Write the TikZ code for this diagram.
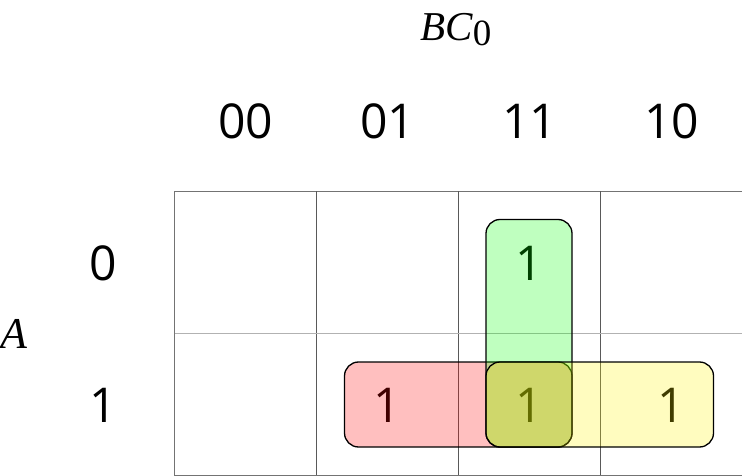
\documentclass[tikz,border=0pt]{standalone}
\usepackage{fontspec}
\setmainfont{Liberation Serif}
\newfontfamily\digitfont{Open Sans}
\begin{document}
\begin{tikzpicture}[x=1pt,y=-1pt,
  dig/.style={font=\digitfont\fontsize{48}{48}\selectfont, inner sep=0pt},
  grp/.style={draw=black, line width=1.3pt, rounded corners=14pt, fill opacity=0.25},
  gridline/.style={draw=black!55, line width=1pt}]
\useasboundingbox (0,0) rectangle (742,476);
% grid
\draw[gridline] (174.5,191.3) rectangle (742.5,475.3);
\draw[gridline, draw=black!65] (316.5,191.3) -- (316.5,475.3);
\draw[gridline, draw=black!65] (458.5,191.3) -- (458.5,475.3);
\draw[gridline, draw=black!65] (600.5,191.3) -- (600.5,475.3);
\draw[gridline, draw=black!30, line width=1.6pt] (174.5,333.3) -- (742.5,333.3);
% labels
\node[anchor=base west, inner sep=0pt, font=\fontsize{41}{41}\selectfont] (bc) at (420,41) {\textit{BC}\raisebox{-5pt}{\fontsize{37}{37}\selectfont 0}};
\node[anchor=base west, inner sep=0pt, font=\fontsize{44}{44}\selectfont] (a) at (0,348) {\textit{A}};
\node[dig] (c00) at (245.5,121) {00};
\node[dig] (c01) at (387.5,121) {01};
\node[dig] (c11) at (529.5,121) {11};
\node[dig] (c10) at (671.5,121) {10};
\node[dig] (r0) at (103,263) {0};
\node[dig] (r1) at (103,405) {1};
% cell values
\node[dig] (m3) at (529,263) {1};
\node[dig] (m5) at (387,405) {1};
\node[dig] (m7) at (529,405) {1};
\node[dig] (m6) at (671,405) {1};
% groups
\draw[grp, fill=red] (344.5,362) rectangle (572,447);
\draw[grp, fill=green] (486,219.5) rectangle (572,447);
\draw[grp, fill=yellow] (486,362) rectangle (713.5,447);
\end{tikzpicture}
\end{document}
